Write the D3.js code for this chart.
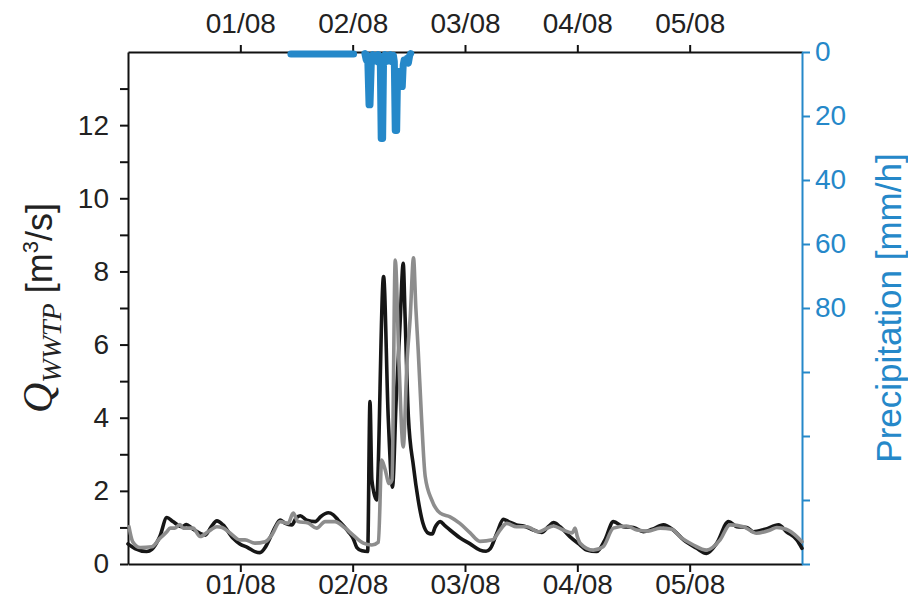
<!DOCTYPE html>
<html>
<head>
<meta charset="utf-8">
<script src="https://cdn.jsdelivr.net/npm/d3@7"></script>
<style>
  html, body { margin: 0; padding: 0; background: #fff; }
  svg text { font-family: "Liberation Sans", Arial, Helvetica, sans-serif; }
</style>
</head>
<body>
<svg id="chart" width="908" height="610"></svg>
<script>
// Time axis: hours since 31/07 00:00, six days shown
const dayTicks = [24, 48, 72, 96, 120];
const dayLabels = ["01/08", "02/08", "03/08", "04/08", "05/08"];

// Left axis ticks (flow, m3/s)
const flowTicks = d3.range(0, 14, 1);
const flowLabels = [0, 2, 4, 6, 8, 10, 12];

// Right axis ticks (precipitation, mm/h; axis reversed)
const rainTicks = [0, 20, 40, 60, 80, 100, 120, 140, 160];
const rainLabels = [0, 20, 40, 60, 80];

// Measured inflow to the WWTP
const measHours = [0, 1.5, 4.0, 5.1, 6.8, 8.3, 9.6, 11.5, 12.5, 13.6, 15.4, 16.5, 17.7, 19.0, 20.3, 22.4, 23.9,
  25.6, 27.1, 28.2, 29.3, 30.3, 31.4, 32.5, 33.5, 35.0, 35.9, 36.8, 38.2, 40.0, 41.2, 42.8, 43.8, 44.9, 47.1, 48.1,
  48.9, 50.0, 51.2, 51.7, 52.1, 53.1, 54.6, 55.6, 56.5, 57.3, 58.1, 58.8, 59.2, 59.9, 61.0, 62.0, 63.0, 64.2, 65.0,
  65.6, 66.7, 67.7, 68.8, 70.9, 73.1, 75.2, 76.5, 77.4, 78.8, 80.2, 81.3, 83.0, 84.5, 86.6, 88.4, 89.8, 90.9, 92.3,
  94.4, 96.6, 98.0, 100.1, 101.9, 103.7, 105.8, 108.0, 110.1, 112.0, 114.4, 116.5, 118.7, 121.5, 123.6, 125.8,
  128.3, 130.1, 132.2, 133.6, 136.1, 139.0, 140.7, 142.9, 144.0];
const measFlow = [0.55, 0.42, 0.34, 0.40, 0.75, 1.27, 1.16, 1.02, 1.08, 0.98, 0.84, 0.79, 1.00, 1.18, 1.07, 0.71, 0.55,
  0.45, 0.34, 0.31, 0.45, 0.70, 1.00, 1.20, 1.12, 1.07, 1.25, 1.32, 1.20, 1.16, 1.30, 1.40, 1.35, 1.20, 0.88, 0.70,
  0.45, 0.36, 0.34, 4.44, 2.30, 1.75, 7.86, 4.00, 2.10, 4.50, 6.50, 8.22, 6.76, 4.03, 2.66, 1.75, 1.12, 0.84, 0.82,
  1.00, 1.16, 1.05, 0.93, 0.72, 0.55, 0.38, 0.35, 0.42, 0.84, 1.22, 1.16, 1.07, 1.04, 0.93, 0.86, 1.02, 1.13, 1.02,
  0.75, 0.52, 0.38, 0.34, 0.66, 1.16, 1.02, 1.00, 0.88, 0.95, 1.07, 0.93, 0.66, 0.43, 0.29, 0.57,
  1.16, 1.02, 1.00, 0.88, 0.95, 1.07, 0.88, 0.66, 0.43];

// Simulated inflow to the WWTP
const simHours = [0.2, 1.0, 2.6, 5.1, 6.8, 8.3, 9.0, 10.0, 11.1, 11.8, 13.9, 15.4, 17.1, 19.0, 20.1, 21.8, 23.9,
  25.0, 27.1, 29.3, 30.7, 32.5, 34.2, 35.3, 36.3, 38.5, 40.3, 42.1, 44.2, 46.4, 48.1, 50.3, 52.1, 53.5, 54.2, 54.9,
  55.8, 56.4, 57.1, 57.9, 58.8, 59.6, 60.3, 61.0, 61.5, 62.0, 62.7, 63.5, 64.9, 66.7, 68.8, 70.9, 73.1, 75.2, 77.9,
  79.5, 80.9, 83.0, 85.2, 87.7, 89.1, 90.9, 93.0, 94.9, 95.5, 96.0, 96.6, 99.4, 101.5, 103.7, 106.5, 108.7, 111.1,
  113.7, 116.2, 117.9, 120.8, 123.6, 126.5, 128.6, 131.5, 134.3, 137.2, 138.6, 140.6, 142.9, 144.0];
const simFlow = [1.02, 0.61, 0.45, 0.47, 0.70, 0.88, 0.98, 0.98, 1.08, 0.98, 0.98, 0.75, 0.88, 1.02, 1.00, 0.85, 0.66,
  0.66, 0.57, 0.61, 0.79, 1.16, 1.11, 1.39, 1.16, 1.12, 0.98, 1.16, 1.16, 0.98, 0.79, 0.57, 0.52, 0.60, 2.84, 2.60,
  2.20, 2.30, 8.31, 5.50, 3.20, 5.50, 6.76, 8.37, 7.00, 5.85, 4.03, 2.39, 1.75, 1.39, 1.29, 1.11, 0.85, 0.62, 0.66,
  0.93, 1.11, 1.02, 1.02, 0.88, 0.95, 1.04, 0.93, 0.85, 0.98, 0.75, 0.57, 0.38, 0.47, 0.98, 1.04, 0.93, 0.90,
  0.98, 0.95, 0.75, 0.52, 0.38, 0.66, 1.07, 1.02, 0.84, 0.93, 1.00, 0.95, 0.75, 0.61];

// Rainfall intensity (null = no record)
const rainHours = [34.8, 48.2, 48.3, 50.6, 50.9, 51.2, 51.5, 51.7, 52.0, 52.3, 52.6, 52.9, 53.2, 53.5, 53.9, 54.1,
  54.4, 54.6, 54.9, 55.2, 55.5, 55.8, 56.1, 56.4, 56.7, 56.9, 57.1, 57.4, 57.6, 57.8, 58.6, 58.8, 59.0, 59.3,
  59.6, 59.9, 60.2, 60.4];
const rainValues = [0.6, 0.6, null, 0.5, 2.5, 1.0, 16.5, 16.5, 2.5, 0.8, 2.8, 1.0, 3.0, 0.8, 2.5, 27.0,
  27.0, 2.5, 0.8, 3.0, 1.0, 2.8, 0.8, 3.0, 1.0, 3.0, 24.5, 24.5, 6.0, 10.8, 10.8, 4.0, 2.5, 3.5,
  2.0, 3.5, 1.0, 0.5];

const blue = "#2588c9";
const margin = { left: 128, right: 106, top: 52, bottom: 46 };
const W = 908, H = 610;
const svg = d3.select("#chart");

const x = d3.scaleLinear().domain([0, 144]).range([margin.left, W - margin.right]);
const y = d3.scaleLinear().domain([0, 14]).range([H - margin.bottom, margin.top]);
const yR = d3.scaleLinear().domain([0, 160]).range([margin.top, H - margin.bottom]);

const fontSize = 28;

// Bottom axis
const gB = svg.append("g").attr("transform", `translate(0,${y(0)})`)
  .call(d3.axisBottom(x).tickValues(dayTicks).tickFormat((d, i) => dayLabels[i]).tickSize(8).tickPadding(2).tickSizeOuter(0));
// Top axis
const gT = svg.append("g").attr("transform", `translate(0,${y(14)})`)
  .call(d3.axisTop(x).tickValues(dayTicks).tickFormat((d, i) => dayLabels[i]).tickSize(7).tickPadding(12).tickSizeOuter(0));
// Left axis
const gL = svg.append("g").attr("transform", `translate(${x(0)},0)`)
  .call(d3.axisLeft(y).tickValues(flowTicks).tickFormat(d => flowLabels.includes(d) ? d : "").tickSize(8).tickPadding(11).tickSizeOuter(0));
// Right axis
const gR = svg.append("g").attr("transform", `translate(${x(144)},0)`)
  .call(d3.axisRight(yR).tickValues(rainTicks).tickFormat(d => rainLabels.includes(d) ? d : "").tickSize(8).tickPadding(5).tickSizeOuter(0));

[gB, gT, gL].forEach(g => {
  g.selectAll("path.domain").attr("stroke", "#111").attr("stroke-width", 2);
  g.selectAll(".tick line").attr("stroke", "#111").attr("stroke-width", 2);
  g.selectAll(".tick text").attr("fill", "#222").style("font-size", fontSize + "px").attr("font-family", null);
});
gR.selectAll("path.domain").attr("stroke", blue).attr("stroke-width", 2);
gR.selectAll(".tick line").attr("stroke", blue).attr("stroke-width", 2);
gR.selectAll(".tick text").attr("fill", blue).style("font-size", fontSize + "px").attr("font-family", null);

// Flow lines
const measData = measHours.map((h, i) => [h, measFlow[i]]);
const simData = simHours.map((h, i) => [h, simFlow[i]]);
const flowLine = d3.line().x(d => x(d[0])).y(d => y(d[1])).curve(d3.curveMonotoneX);

svg.append("path").datum(measData).attr("d", flowLine)
  .attr("fill", "none").attr("stroke", "#161616").attr("stroke-width", 3.6)
  .attr("stroke-linejoin", "round").attr("stroke-linecap", "round");
svg.append("path").datum(simData).attr("d", flowLine)
  .attr("fill", "none").attr("stroke", "#8d8d8d").attr("stroke-width", 3.6)
  .attr("stroke-linejoin", "round").attr("stroke-linecap", "round");

// Rainfall hanging from the top
const rainData = rainHours.map((h, i) => [h, rainValues[i]]);
const rainLine = d3.line().defined(d => d[1] !== null).x(d => x(d[0])).y(d => yR(d[1]));
svg.append("path").datum(rainData).attr("d", rainLine)
  .attr("fill", "none").attr("stroke", blue).attr("stroke-width", 7)
  .attr("stroke-linejoin", "round").attr("stroke-linecap", "round");

// Axis titles
const lt = svg.append("text")
  .attr("transform", `translate(52,${(margin.top + H - margin.bottom) / 2}) rotate(-90)`)
  .attr("text-anchor", "middle").attr("fill", "#222");
lt.append("tspan").text("Q").attr("font-family", "'Liberation Serif', 'DejaVu Serif', serif")
  .attr("font-style", "italic").style("font-size", "42px");
lt.append("tspan").text("WWTP").attr("font-family", "'Liberation Serif', 'DejaVu Serif', serif")
  .attr("font-style", "italic").style("font-size", "28px").attr("dy", 9);
lt.append("tspan").text(" [m").style("font-size", "36px").attr("dy", -9);
lt.append("tspan").text("3").style("font-size", "22px").attr("dy", -14);
lt.append("tspan").text("/s]").style("font-size", "36px").attr("dy", 14);

svg.append("text")
  .attr("transform", `translate(901,${(margin.top + H - margin.bottom) / 2}) rotate(-90)`)
  .attr("text-anchor", "middle").attr("fill", blue).style("font-size", "35px")
  .text("Precipitation [mm/h]");
</script>
</body>
</html>
